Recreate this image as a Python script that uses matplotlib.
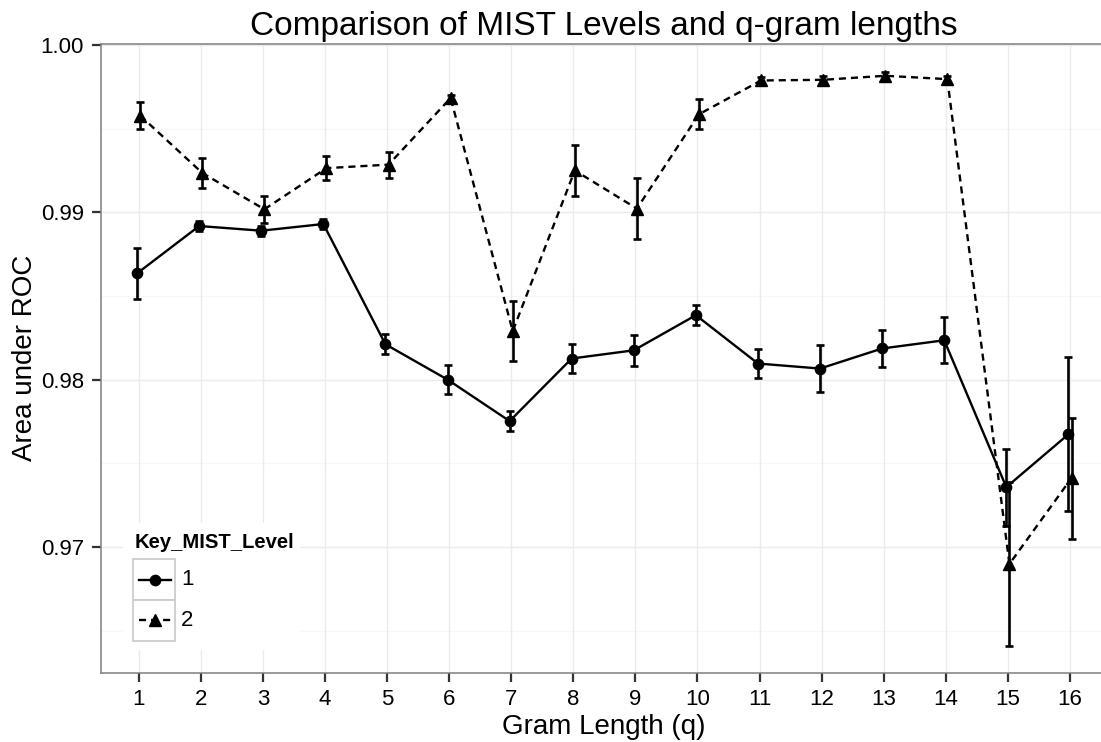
import matplotlib
matplotlib.use("Agg")
import matplotlib.pyplot as plt
from matplotlib.lines import Line2D
from matplotlib.patches import Rectangle
import numpy as np

plt.rcParams['font.family'] = ['Liberation Sans', 'DejaVu Sans']

# ---- data ----
gram_length = list(range(1, 17))
level1_auc = [0.98635, 0.98918, 0.98890, 0.98930, 0.98211, 0.98000, 0.97752, 0.98126,
              0.98175, 0.98385, 0.98096, 0.98066, 0.98186, 0.98235, 0.97357, 0.97673]
level1_err = [0.00151, 0.00030, 0.00030, 0.00030, 0.00060, 0.00085, 0.00060, 0.00084,
              0.00093, 0.00058, 0.00084, 0.00143, 0.00113, 0.00137, 0.00230, 0.00460]
level2_auc = [0.99578, 0.99235, 0.99018, 0.99264, 0.99285, 0.99683, 0.98290, 0.99250,
              0.99022, 0.99586, 0.99788, 0.99792, 0.99816, 0.99796, 0.96898, 0.97411]
level2_err = [0.00083, 0.00087, 0.00082, 0.00070, 0.00078, 0.00020, 0.00181, 0.00155,
              0.00182, 0.00091, 0.00020, 0.00020, 0.00020, 0.00020, 0.00490, 0.00362]
legend_labels = ['1', '2']
title = 'Comparison of MIST Levels and q-gram lengths'
xlabel = 'Gram Length (q)'
ylabel = 'Area under ROC'
legend_title = 'Key_MIST_Level'

W, H = 1101, 742
fig = plt.figure(figsize=(W / 100, H / 100), dpi=100)
fig.patch.set_facecolor('white')

def fx(x):
    return x / W

def fy(y):
    return 1 - y / H

ax_left, ax_right, ax_top, ax_bottom = 101.4, 1107.2, 43.7, 672.7
ax = fig.add_axes([fx(ax_left), fy(ax_bottom), (ax_right - ax_left) / W, (ax_bottom - ax_top) / H])
ax.set_xlim(0.4, 16.6)
ax.set_ylim(0.96248, 1.000078)

# grid
ax.set_xticks(gram_length)
ax.set_xticklabels([str(g) for g in gram_length])
ax.set_yticks([0.97, 0.98, 0.99, 1.00])
ax.set_yticklabels(['0.97', '0.98', '0.99', '1.00'])
for v in [0.965, 0.975, 0.985, 0.995]:
    ax.axhline(v, color='#F7F7F7', lw=1.0, zorder=0)
for v in [0.97, 0.98, 0.99, 1.00]:
    ax.axhline(v, color='#EBEBEB', lw=1.0, zorder=0.1)
for g in gram_length:
    ax.axvline(g, color='#EBEBEB', lw=1.0, zorder=0.1)

for s in ['left', 'bottom', 'top']:
    ax.spines[s].set_color('#7F7F7F')
    ax.spines[s].set_linewidth(1.1)
ax.spines['right'].set_visible(False)

ax.tick_params(axis='both', colors='#333333', width=1.6, length=6.5, labelsize=16,
               labelcolor='black')
ax.tick_params(axis='x', pad=5)
ax.tick_params(axis='y', pad=6)

dodge = 0.025
x1 = np.array(gram_length) - dodge
x2 = np.array(gram_length) + dodge

ax.plot(x1, level1_auc, color='black', lw=1.7, ls='-', zorder=3)
ax.plot(x2, level2_auc, color='black', lw=1.7, ls=(0, (3.0, 2.1)), zorder=3)
ax.errorbar(x1, level1_auc, yerr=level1_err, fmt='none', ecolor='black',
            elinewidth=1.9, capsize=2.8, capthick=1.9, zorder=4)
ax.errorbar(x2, level2_auc, yerr=level2_err, fmt='none', ecolor='black',
            elinewidth=1.9, capsize=2.8, capthick=1.9, zorder=4)
ax.plot(x1, level1_auc, ls='none', marker='o', ms=7.4, color='black', zorder=5)
ax.plot(x2, level2_auc, ls='none', marker='^', ms=8.8, color='black', zorder=5)

# titles
fig.text(fx((ax_left + ax_right) / 2), fy(35), title, ha='center', va='baseline',
         fontsize=24, color='black')
fig.text(fx(604), fy(734), xlabel, ha='center', va='baseline', fontsize=20, color='black')
fig.text(fx(25), fy(358), ylabel, ha='center', va='center', rotation=90,
         fontsize=20, color='black')

# legend (manual, ggplot-like)
ax.add_patch(Rectangle((fx(123), fy(650)), fx(300) - fx(123), fy(523) - fy(650),
                       transform=fig.transFigure, facecolor='white', edgecolor='none',
                       zorder=6, clip_on=False))
fig.text(fx(135), fy(548.3), legend_title, ha='left', va='baseline', fontsize=14.6,
         fontweight='bold', color='black', zorder=7)
key_top = [559.3, 600.0]
key_h = 40.7
styles = [dict(ls='-', marker='o', ms=7.4), dict(ls=(0, (3.0, 2.1)), marker='^', ms=8.8)]
for i, lab in enumerate(legend_labels):
    t = key_top[i]
    ax.add_patch(Rectangle((fx(133.3), fy(t + key_h)), fx(175) - fx(133.3), key_h / H,
                           transform=fig.transFigure, facecolor='white',
                           edgecolor='#CCCCCC', lw=1.3, zorder=7, clip_on=False))
    cy = t + key_h / 2
    ln = Line2D([fx(139.3), fx(170.7)], [fy(cy), fy(cy)], transform=fig.transFigure,
                color='black', lw=1.7, ls=styles[i]['ls'], zorder=8)
    fig.add_artist(ln)
    mk = Line2D([fx(155)], [fy(cy)], transform=fig.transFigure, color='black',
                marker=styles[i]['marker'], ms=styles[i]['ms'], ls='none', zorder=9)
    fig.add_artist(mk)
    fig.text(fx(181), fy(cy), lab, ha='left', va='center', fontsize=16, color='black',
             zorder=9)

fig.savefig('out.png', dpi=100, facecolor='white')
